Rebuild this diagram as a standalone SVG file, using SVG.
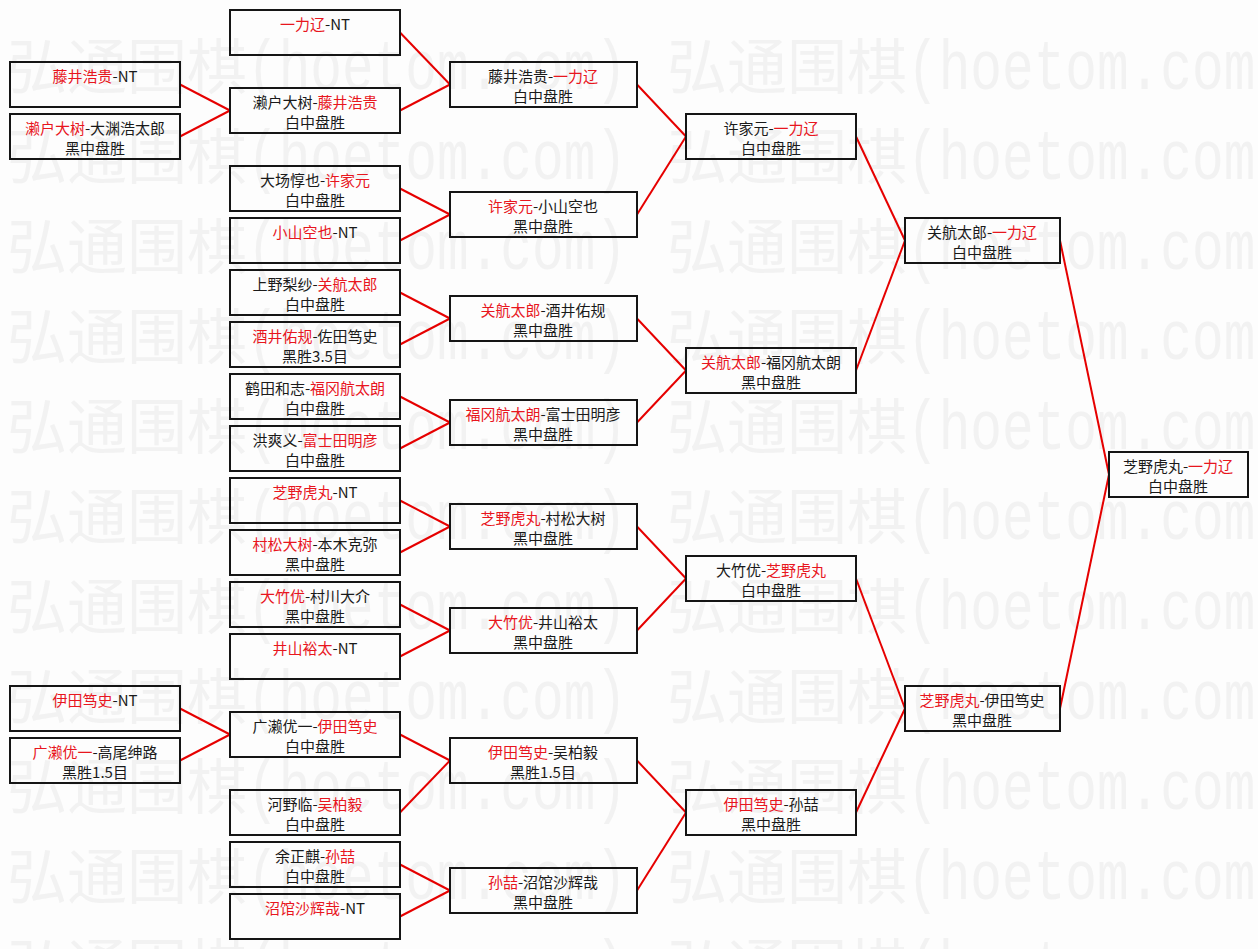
<svg xmlns="http://www.w3.org/2000/svg" width="1258" height="949" viewBox="0 0 1258 949">
<style>
.bg{fill:#fdfdfd}
.wc{font-family:"Noto Sans CJK SC","Noto Sans CJK JP",sans-serif;font-size:60px;fill:#f2f2f2}
.wl{font-family:"Liberation Mono",monospace;font-size:70px;fill:#f2f2f2}
.box{fill:none;stroke:#151515;stroke-width:2}
.t{font-family:"Noto Sans CJK SC","Noto Sans CJK JP",sans-serif;font-size:15px;fill:#1a1a1a;text-anchor:middle}
.r{fill:#e8161e}
.c line{stroke:#e60000;stroke-width:2}
</style>
<rect class="bg" x="0" y="0" width="1258" height="949"/>
<g id="watermark">
<text class="wc" x="7" y="89">弘通围棋</text><text class="wl" x="247" y="89" textLength="380" lengthAdjust="spacingAndGlyphs">(hoetom.com)</text><text class="wc" x="667" y="89">弘通围棋</text><text class="wl" x="907" y="89" textLength="380" lengthAdjust="spacingAndGlyphs">(hoetom.com)</text>
<text class="wc" x="7" y="179">弘通围棋</text><text class="wl" x="247" y="179" textLength="380" lengthAdjust="spacingAndGlyphs">(hoetom.com)</text><text class="wc" x="667" y="179">弘通围棋</text><text class="wl" x="907" y="179" textLength="380" lengthAdjust="spacingAndGlyphs">(hoetom.com)</text>
<text class="wc" x="7" y="269">弘通围棋</text><text class="wl" x="247" y="269" textLength="380" lengthAdjust="spacingAndGlyphs">(hoetom.com)</text><text class="wc" x="667" y="269">弘通围棋</text><text class="wl" x="907" y="269" textLength="380" lengthAdjust="spacingAndGlyphs">(hoetom.com)</text>
<text class="wc" x="7" y="359">弘通围棋</text><text class="wl" x="247" y="359" textLength="380" lengthAdjust="spacingAndGlyphs">(hoetom.com)</text><text class="wc" x="667" y="359">弘通围棋</text><text class="wl" x="907" y="359" textLength="380" lengthAdjust="spacingAndGlyphs">(hoetom.com)</text>
<text class="wc" x="7" y="449">弘通围棋</text><text class="wl" x="247" y="449" textLength="380" lengthAdjust="spacingAndGlyphs">(hoetom.com)</text><text class="wc" x="667" y="449">弘通围棋</text><text class="wl" x="907" y="449" textLength="380" lengthAdjust="spacingAndGlyphs">(hoetom.com)</text>
<text class="wc" x="7" y="539">弘通围棋</text><text class="wl" x="247" y="539" textLength="380" lengthAdjust="spacingAndGlyphs">(hoetom.com)</text><text class="wc" x="667" y="539">弘通围棋</text><text class="wl" x="907" y="539" textLength="380" lengthAdjust="spacingAndGlyphs">(hoetom.com)</text>
<text class="wc" x="7" y="629">弘通围棋</text><text class="wl" x="247" y="629" textLength="380" lengthAdjust="spacingAndGlyphs">(hoetom.com)</text><text class="wc" x="667" y="629">弘通围棋</text><text class="wl" x="907" y="629" textLength="380" lengthAdjust="spacingAndGlyphs">(hoetom.com)</text>
<text class="wc" x="7" y="719">弘通围棋</text><text class="wl" x="247" y="719" textLength="380" lengthAdjust="spacingAndGlyphs">(hoetom.com)</text><text class="wc" x="667" y="719">弘通围棋</text><text class="wl" x="907" y="719" textLength="380" lengthAdjust="spacingAndGlyphs">(hoetom.com)</text>
<text class="wc" x="7" y="809">弘通围棋</text><text class="wl" x="247" y="809" textLength="380" lengthAdjust="spacingAndGlyphs">(hoetom.com)</text><text class="wc" x="667" y="809">弘通围棋</text><text class="wl" x="907" y="809" textLength="380" lengthAdjust="spacingAndGlyphs">(hoetom.com)</text>
<text class="wc" x="7" y="899">弘通围棋</text><text class="wl" x="247" y="899" textLength="380" lengthAdjust="spacingAndGlyphs">(hoetom.com)</text><text class="wc" x="667" y="899">弘通围棋</text><text class="wl" x="907" y="899" textLength="380" lengthAdjust="spacingAndGlyphs">(hoetom.com)</text>
<text class="wc" x="7" y="989">弘通围棋</text><text class="wl" x="247" y="989" textLength="380" lengthAdjust="spacingAndGlyphs">(hoetom.com)</text><text class="wc" x="667" y="989">弘通围棋</text><text class="wl" x="907" y="989" textLength="380" lengthAdjust="spacingAndGlyphs">(hoetom.com)</text>
</g>
<g id="connectors" class="c">
<line x1="180" y1="84.5" x2="230" y2="110.5"/><line x1="180" y1="136.5" x2="230" y2="110.5"/>
<line x1="180" y1="708.5" x2="230" y2="734.5"/><line x1="180" y1="760.5" x2="230" y2="734.5"/>
<line x1="400" y1="32.5" x2="450" y2="84.5"/><line x1="400" y1="110.5" x2="450" y2="84.5"/>
<line x1="400" y1="188.5" x2="450" y2="214.5"/><line x1="400" y1="240.5" x2="450" y2="214.5"/>
<line x1="400" y1="292.5" x2="450" y2="318.5"/><line x1="400" y1="344.5" x2="450" y2="318.5"/>
<line x1="400" y1="396.5" x2="450" y2="422.5"/><line x1="400" y1="448.5" x2="450" y2="422.5"/>
<line x1="400" y1="500.5" x2="450" y2="526.5"/><line x1="400" y1="552.5" x2="450" y2="526.5"/>
<line x1="400" y1="604.5" x2="450" y2="630.5"/><line x1="400" y1="656.5" x2="450" y2="630.5"/>
<line x1="400" y1="734.5" x2="450" y2="760.5"/><line x1="400" y1="812.5" x2="450" y2="760.5"/>
<line x1="400" y1="864.5" x2="450" y2="890.5"/><line x1="400" y1="916.5" x2="450" y2="890.5"/>
<line x1="637" y1="84.5" x2="686" y2="136.5"/><line x1="637" y1="214.5" x2="686" y2="136.5"/>
<line x1="637" y1="318.5" x2="686" y2="370.5"/><line x1="637" y1="422.5" x2="686" y2="370.5"/>
<line x1="637" y1="526.5" x2="686" y2="578.5"/><line x1="637" y1="630.5" x2="686" y2="578.5"/>
<line x1="637" y1="760.5" x2="686" y2="812.5"/><line x1="637" y1="890.5" x2="686" y2="812.5"/>
<line x1="856" y1="136.5" x2="905" y2="240.5"/><line x1="856" y1="370.5" x2="905" y2="240.5"/>
<line x1="856" y1="578.5" x2="905" y2="708.5"/><line x1="856" y1="812.5" x2="905" y2="708.5"/>
<line x1="1060" y1="240.5" x2="1109" y2="474.5"/><line x1="1060" y1="708.5" x2="1109" y2="474.5"/>
</g>
<g id="r1-1"><rect class="box" x="10" y="62" width="170" height="45"/><text class="t" x="95" y="82"><tspan class="r">藤井浩贵</tspan>-NT</text></g>
<g id="r1-2"><rect class="box" x="10" y="114" width="170" height="45"/><text class="t" x="95" y="134"><tspan class="r">濑户大树</tspan>-大渊浩太郎</text><text class="t" x="95" y="154">黑中盘胜</text></g>
<g id="r1-3"><rect class="box" x="10" y="686" width="170" height="45"/><text class="t" x="95" y="706"><tspan class="r">伊田笃史</tspan>-NT</text></g>
<g id="r1-4"><rect class="box" x="10" y="738" width="170" height="45"/><text class="t" x="95" y="758"><tspan class="r">广濑优一</tspan>-高尾绅路</text><text class="t" x="95" y="778">黑胜1.5目</text></g>

<g id="r2-1"><rect class="box" x="230" y="10" width="170" height="45"/><text class="t" x="315" y="30"><tspan class="r">一力辽</tspan>-NT</text></g>
<g id="r2-2"><rect class="box" x="230" y="88" width="170" height="45"/><text class="t" x="315" y="108">濑户大树-<tspan class="r">藤井浩贵</tspan></text><text class="t" x="315" y="128">白中盘胜</text></g>
<g id="r2-3"><rect class="box" x="230" y="166" width="170" height="45"/><text class="t" x="315" y="186">大场惇也-<tspan class="r">许家元</tspan></text><text class="t" x="315" y="206">白中盘胜</text></g>
<g id="r2-4"><rect class="box" x="230" y="218" width="170" height="45"/><text class="t" x="315" y="238"><tspan class="r">小山空也</tspan>-NT</text></g>
<g id="r2-5"><rect class="box" x="230" y="270" width="170" height="45"/><text class="t" x="315" y="290">上野梨纱-<tspan class="r">关航太郎</tspan></text><text class="t" x="315" y="310">白中盘胜</text></g>
<g id="r2-6"><rect class="box" x="230" y="322" width="170" height="45"/><text class="t" x="315" y="342"><tspan class="r">酒井佑规</tspan>-佐田笃史</text><text class="t" x="315" y="362">黑胜3.5目</text></g>
<g id="r2-7"><rect class="box" x="230" y="374" width="170" height="45"/><text class="t" x="315" y="394">鹤田和志-<tspan class="r">福冈航太朗</tspan></text><text class="t" x="315" y="414">白中盘胜</text></g>
<g id="r2-8"><rect class="box" x="230" y="426" width="170" height="45"/><text class="t" x="315" y="446">洪爽义-<tspan class="r">富士田明彦</tspan></text><text class="t" x="315" y="466">白中盘胜</text></g>
<g id="r2-9"><rect class="box" x="230" y="478" width="170" height="45"/><text class="t" x="315" y="498"><tspan class="r">芝野虎丸</tspan>-NT</text></g>
<g id="r2-10"><rect class="box" x="230" y="530" width="170" height="45"/><text class="t" x="315" y="550"><tspan class="r">村松大树</tspan>-本木克弥</text><text class="t" x="315" y="570">黑中盘胜</text></g>
<g id="r2-11"><rect class="box" x="230" y="582" width="170" height="45"/><text class="t" x="315" y="602"><tspan class="r">大竹优</tspan>-村川大介</text><text class="t" x="315" y="622">黑中盘胜</text></g>
<g id="r2-12"><rect class="box" x="230" y="634" width="170" height="45"/><text class="t" x="315" y="654"><tspan class="r">井山裕太</tspan>-NT</text></g>
<g id="r2-13"><rect class="box" x="230" y="712" width="170" height="45"/><text class="t" x="315" y="732">广濑优一-<tspan class="r">伊田笃史</tspan></text><text class="t" x="315" y="752">白中盘胜</text></g>
<g id="r2-14"><rect class="box" x="230" y="790" width="170" height="45"/><text class="t" x="315" y="810">河野临-<tspan class="r">吴柏毅</tspan></text><text class="t" x="315" y="830">白中盘胜</text></g>
<g id="r2-15"><rect class="box" x="230" y="842" width="170" height="45"/><text class="t" x="315" y="862">余正麒-<tspan class="r">孙喆</tspan></text><text class="t" x="315" y="882">白中盘胜</text></g>
<g id="r2-16"><rect class="box" x="230" y="894" width="170" height="45"/><text class="t" x="315" y="914"><tspan class="r">沼馆沙辉哉</tspan>-NT</text></g>

<g id="r3-1"><rect class="box" x="450" y="62" width="187" height="45"/><text class="t" x="543" y="82">藤井浩贵-<tspan class="r">一力辽</tspan></text><text class="t" x="543" y="102">白中盘胜</text></g>
<g id="r3-2"><rect class="box" x="450" y="192" width="187" height="45"/><text class="t" x="543" y="212"><tspan class="r">许家元</tspan>-小山空也</text><text class="t" x="543" y="232">黑中盘胜</text></g>
<g id="r3-3"><rect class="box" x="450" y="296" width="187" height="45"/><text class="t" x="543" y="316"><tspan class="r">关航太郎</tspan>-酒井佑规</text><text class="t" x="543" y="336">黑中盘胜</text></g>
<g id="r3-4"><rect class="box" x="450" y="400" width="187" height="45"/><text class="t" x="543" y="420"><tspan class="r">福冈航太朗</tspan>-富士田明彦</text><text class="t" x="543" y="440">黑中盘胜</text></g>
<g id="r3-5"><rect class="box" x="450" y="504" width="187" height="45"/><text class="t" x="543" y="524"><tspan class="r">芝野虎丸</tspan>-村松大树</text><text class="t" x="543" y="544">黑中盘胜</text></g>
<g id="r3-6"><rect class="box" x="450" y="608" width="187" height="45"/><text class="t" x="543" y="628"><tspan class="r">大竹优</tspan>-井山裕太</text><text class="t" x="543" y="648">黑中盘胜</text></g>
<g id="r3-7"><rect class="box" x="450" y="738" width="187" height="45"/><text class="t" x="543" y="758"><tspan class="r">伊田笃史</tspan>-吴柏毅</text><text class="t" x="543" y="778">黑胜1.5目</text></g>
<g id="r3-8"><rect class="box" x="450" y="868" width="187" height="45"/><text class="t" x="543" y="888"><tspan class="r">孙喆</tspan>-沼馆沙辉哉</text><text class="t" x="543" y="908">黑中盘胜</text></g>

<g id="r4-1"><rect class="box" x="686" y="114" width="170" height="45"/><text class="t" x="771" y="134">许家元-<tspan class="r">一力辽</tspan></text><text class="t" x="771" y="154">白中盘胜</text></g>
<g id="r4-2"><rect class="box" x="686" y="348" width="170" height="45"/><text class="t" x="771" y="368"><tspan class="r">关航太郎</tspan>-福冈航太朗</text><text class="t" x="771" y="388">黑中盘胜</text></g>
<g id="r4-3"><rect class="box" x="686" y="556" width="170" height="45"/><text class="t" x="771" y="576">大竹优-<tspan class="r">芝野虎丸</tspan></text><text class="t" x="771" y="596">白中盘胜</text></g>
<g id="r4-4"><rect class="box" x="686" y="790" width="170" height="45"/><text class="t" x="771" y="810"><tspan class="r">伊田笃史</tspan>-孙喆</text><text class="t" x="771" y="830">黑中盘胜</text></g>

<g id="r5-1"><rect class="box" x="905" y="218" width="155" height="45"/><text class="t" x="982" y="238">关航太郎-<tspan class="r">一力辽</tspan></text><text class="t" x="982" y="258">白中盘胜</text></g>
<g id="r5-2"><rect class="box" x="905" y="686" width="155" height="45"/><text class="t" x="982" y="706"><tspan class="r">芝野虎丸</tspan>-伊田笃史</text><text class="t" x="982" y="726">黑中盘胜</text></g>

<g id="final"><rect class="box" x="1109" y="452" width="139" height="45"/><text class="t" x="1178" y="472">芝野虎丸-<tspan class="r">一力辽</tspan></text><text class="t" x="1178" y="492">白中盘胜</text></g>
</svg>
